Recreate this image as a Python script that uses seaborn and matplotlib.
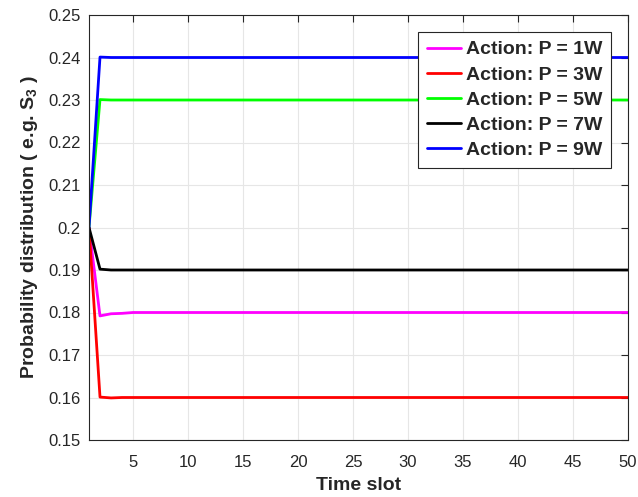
import numpy as np
import pandas as pd
import matplotlib
matplotlib.use("Agg")
import matplotlib.pyplot as plt
import seaborn as sns

# Data
time_slots = list(range(1, 51))
p1 = [0.2, 0.1792, 0.1797, 0.1798] + [0.18] * 46
p3 = [0.2, 0.1601, 0.1599] + [0.16] * 47
p5 = [0.2, 0.2301, 0.2300] + [0.23] * 47
p7 = [0.2, 0.1902, 0.1900] + [0.19] * 47
p9 = [0.2, 0.2401, 0.2400] + [0.24] * 47
labels = ["Action: P = 1W", "Action: P = 3W", "Action: P = 5W",
          "Action: P = 7W", "Action: P = 9W"]
colors = ["#ff00ff", "#ff0000", "#00ff00", "#000000", "#0000ff"]
xticks = [5, 10, 15, 20, 25, 30, 35, 40, 45, 50]
yticks = [0.15, 0.16, 0.17, 0.18, 0.19, 0.2, 0.21, 0.22, 0.23, 0.24, 0.25]
ytick_labels = ["0.15", "0.16", "0.17", "0.18", "0.19", "0.2", "0.21",
                "0.22", "0.23", "0.24", "0.25"]

rows = []
for lab, series in zip(labels, [p1, p3, p5, p7, p9]):
    for t, v in zip(time_slots, series):
        rows.append({"Time slot": t, "value": v, "series": lab})
df = pd.DataFrame(rows)

sns.set_style("white")
plt.rcParams["font.family"] = ["Liberation Sans", "DejaVu Sans"]
plt.rcParams["mathtext.fontset"] = "custom"
plt.rcParams["mathtext.rm"] = "Liberation Sans:bold"
plt.rcParams["mathtext.default"] = "rm"

fig = plt.figure(figsize=(6.38, 4.97), dpi=100)
ax = fig.add_axes([89 / 638, 1 - 440 / 497, 539 / 638, 425 / 497])

sns.lineplot(data=df, x="Time slot", y="value", hue="series",
             palette=dict(zip(labels, colors)), hue_order=labels,
             linewidth=2, ax=ax, legend=True)

ax.set_xlim(1, 50)
ax.set_ylim(0.15, 0.25)
ax.set_xticks(xticks)
ax.set_yticks(yticks)
ax.set_yticklabels(ytick_labels)
ax.tick_params(direction="in", length=5, width=0.8, labelsize=12,
               colors="#262626", top=True, right=True, labelcolor="#262626",
               pad=6)
ax.tick_params(axis="x", pad=11)
ax.grid(True, color="#e6e6e6", linewidth=0.8)
ax.set_axisbelow(True)
for s in ax.spines.values():
    s.set_color("#262626")
    s.set_linewidth(0.8)

ax.set_xlabel("Time slot", fontsize=14, fontweight="bold", color="#262626",
              labelpad=5)
ax.set_ylabel(r"Probability distribution ( e.g. S$_3$ )", fontsize=14,
              fontweight="bold", color="#262626", labelpad=6)

leg = ax.legend(loc="upper right", bbox_to_anchor=(0.9685, 0.96),
                borderaxespad=0, fancybox=False, framealpha=1,
                edgecolor="#262626",
                prop={"weight": "bold", "size": 14},
                handlelength=1.75, labelspacing=0.39, borderpad=0.45,
                handletextpad=0.25)
leg.get_frame().set_linewidth(0.8)

fig.savefig("out.png", dpi=100)
